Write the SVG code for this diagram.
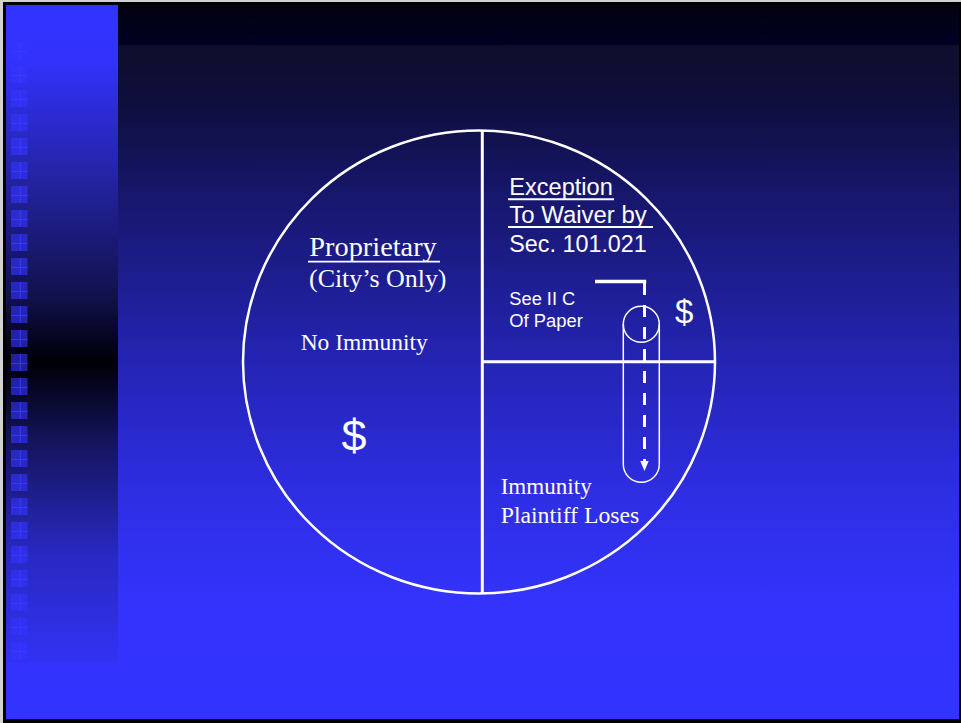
<svg xmlns="http://www.w3.org/2000/svg" width="961" height="723" viewBox="0 0 961 723">
<defs>
<linearGradient id="mainGrad" x1="0" y1="45" x2="0" y2="719" gradientUnits="userSpaceOnUse">
<stop offset="0" stop-color="#0e0e2c"/>
<stop offset="0.08" stop-color="#0e0e3c"/>
<stop offset="0.23" stop-color="#17176e"/>
<stop offset="0.47" stop-color="#2424b4"/>
<stop offset="0.67" stop-color="#2e2ee4"/>
<stop offset="0.83" stop-color="#3333fc"/>
<stop offset="1" stop-color="#3333ff"/>
</linearGradient>
<linearGradient id="topGrad" x1="0" y1="5" x2="0" y2="45" gradientUnits="userSpaceOnUse">
<stop offset="0" stop-color="#020210"/>
<stop offset="1" stop-color="#000024"/>
</linearGradient>
<linearGradient id="stripGrad" x1="0" y1="5" x2="0" y2="663" gradientUnits="userSpaceOnUse">
<stop offset="0" stop-color="#3333ff"/>
<stop offset="0.085" stop-color="#3232fc"/>
<stop offset="0.28" stop-color="#22229a"/>
<stop offset="0.45" stop-color="#10104a"/>
<stop offset="0.517" stop-color="#030318"/>
<stop offset="0.543" stop-color="#000006"/>
<stop offset="0.578" stop-color="#050520"/>
<stop offset="0.662" stop-color="#14145a"/>
<stop offset="0.829" stop-color="#2828c0"/>
<stop offset="1" stop-color="#3232f4"/>
</linearGradient>
<g id="sq">
<rect x="0" y="0" width="16.5" height="17" fill="#3333ff" fill-opacity="0.62"/>
<line x1="9.3" y1="0" x2="9.3" y2="17" stroke="#3c3cff" stroke-width="1.2" stroke-opacity="0.75"/>
<line x1="0" y1="9.5" x2="16.5" y2="9.5" stroke="#3c3cff" stroke-width="1.2" stroke-opacity="0.75"/>
</g>
</defs>
<style>
.serif{font-family:"Liberation Serif","Times New Roman",serif;fill:#ffffff;}
.sans{font-family:"Liberation Sans",Arial,sans-serif;fill:#ffffff;}
.wline{stroke:#ffffff;fill:none;}
</style>
<g id="background">
<rect x="0" y="0" width="961" height="723" fill="#d2d2d2"/>
<rect x="3" y="2" width="958" height="721" fill="#000000"/>
<rect x="6" y="5" width="953" height="714" fill="url(#mainGrad)"/>
<rect x="118" y="5" width="841" height="40" fill="url(#topGrad)"/>
<rect x="6" y="5" width="112" height="658" fill="url(#stripGrad)"/>
<g id="squares">
<use href="#sq" x="11" y="42"/><use href="#sq" x="11" y="66"/><use href="#sq" x="11" y="90"/><use href="#sq" x="11" y="114"/>
<use href="#sq" x="11" y="138"/><use href="#sq" x="11" y="162"/><use href="#sq" x="11" y="186"/><use href="#sq" x="11" y="210"/>
<use href="#sq" x="11" y="234"/><use href="#sq" x="11" y="258"/><use href="#sq" x="11" y="282"/><use href="#sq" x="11" y="306"/>
<use href="#sq" x="11" y="330"/><use href="#sq" x="11" y="354"/><use href="#sq" x="11" y="378"/><use href="#sq" x="11" y="402"/>
<use href="#sq" x="11" y="426"/><use href="#sq" x="11" y="450"/><use href="#sq" x="11" y="474"/><use href="#sq" x="11" y="498"/>
<use href="#sq" x="11" y="522"/><use href="#sq" x="11" y="546"/><use href="#sq" x="11" y="570"/><use href="#sq" x="11" y="594"/>
<use href="#sq" x="11" y="618"/><use href="#sq" x="11" y="642"/>
</g>
</g>
<g id="circle">
<ellipse cx="479" cy="362" rx="236" ry="231.5" class="wline" stroke-width="2.5"/>
<line x1="482.3" y1="130" x2="482.3" y2="594" class="wline" stroke-width="3"/>
<line x1="482.3" y1="361.8" x2="714" y2="361.8" class="wline" stroke-width="3"/>
</g>
<g id="proprietary">
<text x="309.3" y="256" class="serif" font-size="28" textLength="127.5" lengthAdjust="spacingAndGlyphs">Proprietary</text>
<line x1="308" y1="261.7" x2="440" y2="261.7" class="wline" stroke-width="1.8"/>
<text x="309" y="287.3" class="serif" font-size="26" textLength="137.5" lengthAdjust="spacingAndGlyphs">(City’s Only)</text>
<text x="300.7" y="350" class="serif" font-size="23.5" textLength="127" lengthAdjust="spacingAndGlyphs">No Immunity</text>
<text x="341.5" y="451" class="sans" font-size="45">$</text>
</g>
<g id="exception">
<text x="509.3" y="195" class="sans" font-size="23" textLength="103.5" lengthAdjust="spacingAndGlyphs">Exception</text>
<line x1="508" y1="199.3" x2="614" y2="199.3" class="wline" stroke-width="2"/>
<text x="509.3" y="223" class="sans" font-size="23" textLength="137.5" lengthAdjust="spacingAndGlyphs">To Waiver by</text>
<line x1="508" y1="227" x2="653" y2="227" class="wline" stroke-width="2"/>
<text x="509.3" y="251.5" class="sans" font-size="23" textLength="137.5" lengthAdjust="spacingAndGlyphs">Sec. 101.021</text>
<text x="509.3" y="305" class="sans" font-size="17.5" textLength="66" lengthAdjust="spacingAndGlyphs">See II C</text>
<text x="509.3" y="327" class="sans" font-size="17.5" textLength="73.5" lengthAdjust="spacingAndGlyphs">Of Paper</text>
<text x="675" y="322.5" class="sans" font-size="33">$</text>
</g>
<g id="immunity">
<text x="500.7" y="494.3" class="serif" font-size="23.5" textLength="91" lengthAdjust="spacingAndGlyphs">Immunity</text>
<text x="500.7" y="522.7" class="serif" font-size="23.5" textLength="138.6" lengthAdjust="spacingAndGlyphs">Plaintiff Loses</text>
</g>
<g id="cylinder">
<path d="M623.3 324.3 V464.3 A18 18 0 0 0 659.3 464.3 V324.3" class="wline" stroke-width="1.5"/>
<circle cx="641.3" cy="324.3" r="18" class="wline" stroke-width="1.5"/>
</g>
<g id="connectors">
<line x1="644.5" y1="283" x2="644.5" y2="462" class="wline" stroke-width="3" stroke-dasharray="12 10"/>
<polygon points="640.3,461 648.7,461 644.5,471" fill="#ffffff"/>
<line x1="595" y1="281.5" x2="646.2" y2="281.5" class="wline" stroke-width="3.5"/>
</g>
</svg>
